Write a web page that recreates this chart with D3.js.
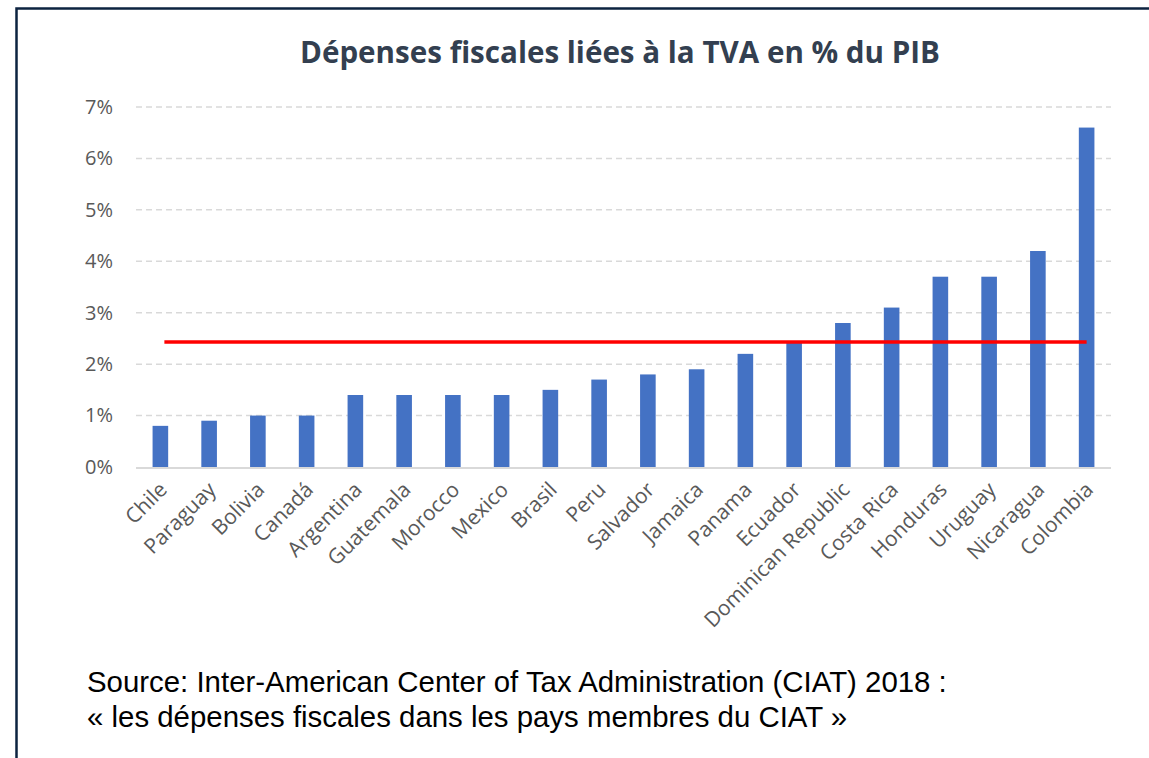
<!DOCTYPE html>
<html><head><meta charset="utf-8">
<script src="https://cdn.jsdelivr.net/npm/d3@7"></script>
<style>html,body{margin:0;padding:0;background:#fff;}</style>
</head><body>
<script>
const categories = ["Chile","Paraguay","Bolivia","Canadá","Argentina","Guatemala","Morocco","Mexico","Brasil","Peru","Salvador","Jamaica","Panama","Ecuador","Dominican Republic","Costa Rica","Honduras","Uruguay","Nicaragua","Colombia"];
const values = [0.8,0.9,1.0,1.0,1.4,1.4,1.4,1.4,1.5,1.7,1.8,1.9,2.2,2.45,2.8,3.1,3.7,3.7,4.2,6.6];
const averageLine = 2.43;
const yTicks = [0,1,2,3,4,5,6,7];
const title = "Dépenses fiscales liées à la TVA en % du PIB";
const sourceLines = ["Source: Inter-American Center of Tax Administration (CIAT) 2018 :","« les dépenses fiscales dans les pays membres du CIAT »"];

const W = 1149, H = 758;
const svg = d3.select("body").append("svg").attr("width", W).attr("height", H);

// frame
svg.append("path").attr("d", `M16.5,${H} L16.5,8.5 L${W},8.5`).attr("fill","none").attr("stroke","#0c2340").attr("stroke-width",2.5);

const x = d3.scaleBand().domain(categories).range([136,1111]).paddingInner(0.68).paddingOuter(0.34);
const y = d3.scaleLinear().domain([0,7]).range([467,107]);

svg.append("text").attr("x",620).attr("y",63).attr("text-anchor","middle")
  .attr("font-family","'Open Sans', Lato, sans-serif").attr("font-weight","bold").attr("font-size",29.6)
  .attr("fill","#333f50").text(title);

// gridlines
const grid = svg.append("g");
grid.selectAll("line").data(yTicks.filter(d=>d>0)).join("line")
  .attr("x1",136).attr("x2",1111).attr("y1",d=>y(d)).attr("y2",d=>y(d))
  .attr("stroke","#d9d9d9").attr("stroke-width",1.5).attr("stroke-dasharray","6,4");

// y axis labels
const yAxis = d3.axisLeft(y).tickValues(yTicks).tickFormat(d=>d+"%").tickSize(0).tickPadding(0);
const ya = svg.append("g").attr("transform","translate(113,0)").call(yAxis);
ya.select(".domain").remove();
ya.selectAll("text").attr("font-family","'Open Sans', Lato, sans-serif").attr("font-size",20).attr("fill","#595959");

// bars
svg.append("g").selectAll("rect").data(categories).join("rect")
  .attr("x",d=>x(d)).attr("width",x.bandwidth())
  .attr("y",(d,i)=>y(values[i])).attr("height",(d,i)=>y(0)-y(values[i]))
  .attr("fill","#4472c4");

// baseline
svg.append("line").attr("x1",136).attr("x2",1111).attr("y1",y(0)+1).attr("y2",y(0)+1)
  .attr("stroke","#d9d9d9").attr("stroke-width",2);

// x axis labels
const xAxis = d3.axisBottom(x).tickSize(0).tickPadding(0);
const xa = svg.append("g").attr("transform",`translate(0,${y(0)})`).call(xAxis);
xa.select(".domain").remove();
xa.selectAll("text").attr("font-family","'Open Sans', Lato, sans-serif").attr("font-size",21).attr("fill","#595959")
  .attr("text-anchor","end").attr("dy",0).attr("y",0)
  .attr("transform","translate(8,24) rotate(-45)");

// red average line
const cx = d => x(d) + x.bandwidth()/2;
svg.append("line")
  .attr("x1",cx(categories[0])+4).attr("x2",cx(categories[categories.length-1]))
  .attr("y1",y(averageLine)).attr("y2",y(averageLine))
  .attr("stroke","#ff0000").attr("stroke-width",3.5);

// source
svg.append("g").selectAll("text").data(sourceLines).join("text")
  .attr("x",87).attr("y",(d,i)=>692+i*35)
  .attr("font-family","'Liberation Sans', Arial, sans-serif").attr("font-size",29.4).attr("fill","#000")
  .text(d=>d);
</script>
</body></html>
